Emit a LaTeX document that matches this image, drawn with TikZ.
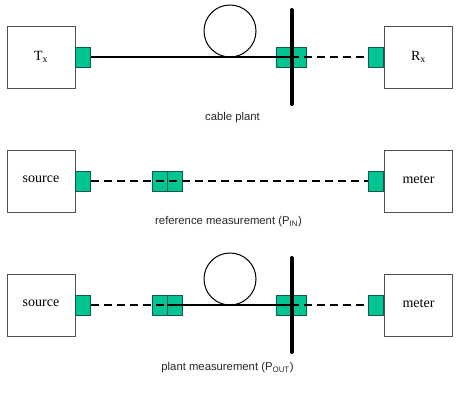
\documentclass[tikz,border=0pt]{standalone}
\usepackage{fontspec}
\setmainfont{Liberation Serif}
\setsansfont{Liberation Sans}
\usetikzlibrary{positioning}
\definecolor{portgreen}{RGB}{0,196,146}
\definecolor{portedge}{RGB}{20,90,75}
\definecolor{boxedge}{RGB}{80,80,80}
\tikzset{
    unit/.style={draw=boxedge, line width=0.9pt, fill=white, minimum width=68pt, minimum height=62pt, inner sep=0pt, font=\fontsize{14}{16}\selectfont},
    port/.style={draw=portedge, line width=0.7pt, fill=portgreen, minimum width=15pt, minimum height=20pt, inner sep=0pt},
    coil/.style={draw=black, circle, line width=1pt, minimum size=52pt, inner sep=0pt},
    fiber/.style={line width=1.2pt, black},
    patch/.style={fiber, dashed, dash pattern=on 8pt off 5pt},
    wall/.style={line width=4pt, line cap=round, black},
    caption/.style={font=\sffamily\fontsize{11.3}{13}\selectfont, text=black!85},
}
\begin{document}
\begin{tikzpicture}[x=1pt, y=-1pt]
    \useasboundingbox (0,0) rectangle (468,409);
    % three rows of end units with their ports
    \foreach \r/\y/\leftText/\rightText in {a/57/T\textsubscript{x}/R\textsubscript{x}, b/181/source/meter, c/305/source/meter}{
        \node [unit] (\r-left) at (41, \y) {\raisebox{3pt}{\leftText}};
        \node [unit] (\r-right) at (418.5, \y) {\raisebox{3pt}{\rightText}};
        \node [port, right=0pt of \r-left] (\r-out) {};
        \node [port, left=0pt of \r-right] (\r-in) {};
    }
    % cable plant
    \node [coil] (a-coil) at (230, 31) {};
    \node [port] (a-pl) at (283.5, 57) {};
    \node [port, right=0pt of a-pl] (a-pr) {};
    \draw [fiber] (a-out.east) -- (a-pl.east);
    \draw [patch] (a-pl.east) -- (a-in.west);
    \coordinate (a-walltop) at (291.5, 10);
    \coordinate (a-wallbot) at (291.5, 104);
    \draw [wall] (a-walltop) -- (a-wallbot);
    \node [caption] (a-cap) at (232.5, 118) {cable plant};
    % reference measurement
    \node [port] (b-pl) at (159.5, 181) {};
    \node [port, right=0pt of b-pl] (b-pr) {};
    \draw [patch] (b-out.east) -- (b-in.west);
    \node [caption] (b-cap) at (228.5, 222) {reference measurement (P\textsubscript{IN})};
    % plant measurement
    \node [coil] (c-coil) at (230, 279) {};
    \node [port] (c-pl) at (159.5, 305) {};
    \node [port, right=0pt of c-pl] (c-pr) {};
    \node [port] (c-ql) at (283.5, 305) {};
    \node [port, right=0pt of c-ql] (c-qr) {};
    \draw [patch] (c-out.east) -- (c-pl.east);
    \draw [fiber] (c-pl.east) -- (c-ql.east);
    \draw [patch] (c-ql.east) -- (c-in.west);
    \coordinate (c-walltop) at (291.5, 258);
    \coordinate (c-wallbot) at (291.5, 352);
    \draw [wall] (c-walltop) -- (c-wallbot);
    \node [caption] (c-cap) at (227.5, 368) {plant measurement (P\textsubscript{OUT})};
\end{tikzpicture}
\end{document}
